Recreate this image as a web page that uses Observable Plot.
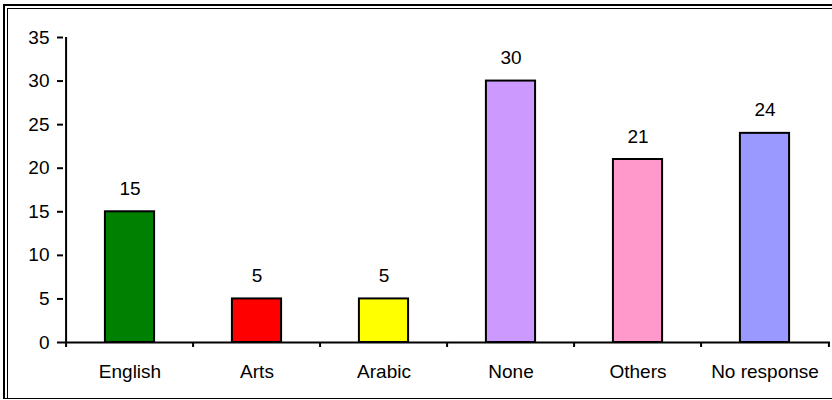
<!DOCTYPE html>
<html>
<head>
<meta charset="utf-8">
<script src="https://cdn.jsdelivr.net/npm/d3@7"></script>
<script src="https://cdn.jsdelivr.net/npm/@observablehq/plot@0.6"></script>
<style>
  html, body { margin: 0; padding: 0; width: 832px; height: 400px; overflow: hidden; background: #fff; }
  #wrap { position: relative; width: 832px; height: 400px; }
  .b1 { position: absolute; left: 3px; top: 4px; width: 860px; height: 395px; box-sizing: border-box;
        border-left: 2px solid #000; border-top: 2px solid #000; border-bottom: 1px solid #000; }
  .b2 { position: absolute; left: 7px; top: 8px; width: 860px; height: 391px; box-sizing: border-box;
        border-left: 1px solid #000; border-top: 1px solid #000; }
  #chart { position: absolute; left: 0; top: 0; }
</style>
</head>
<body>
<div id="wrap">
  <div class="b1"></div>
  <div class="b2"></div>
  <div id="chart"></div>
</div>
<script>
const categories = ["English", "Arts", "Arabic", "None", "Others", "No response"];
const values = [15, 5, 5, 30, 21, 24];
const colors = ["#008000", "#FF0000", "#FFFF00", "#CC99FF", "#FF99CC", "#9999FF"];
const yTicks = [0, 5, 10, 15, 20, 25, 30, 35];

const data = categories.map((c, i) => ({category: c, value: values[i], color: colors[i]}));

const W = 832, H = 400, ML = 63, MR = 2, MT = 37, MB = 58;
const step = (W - ML - MR) / categories.length;
const barW = 50;
const inset = (step - barW) / 2;
const font = "Liberation Sans, Arial, sans-serif";

const chart = Plot.plot({
  width: W,
  height: H,
  marginLeft: ML,
  marginRight: MR,
  marginTop: MT,
  marginBottom: MB,
  style: {fontFamily: font, fontSize: "19px", background: "transparent", color: "#000"},
  x: {type: "band", domain: categories, padding: 0, axis: null},
  y: {domain: [0, 35], axis: null},
  marks: [
    Plot.barY(data, {x: "category", y: "value", fill: "color", stroke: "#000", strokeWidth: 2,
      insetLeft: inset, insetRight: inset}),
    Plot.text(data, {x: "category", y: "value", text: d => String(d.value), dy: -23,
      fontSize: 19, fill: "#000"}),
    // y axis
    Plot.axisY({ticks: yTicks, tickSize: 6, tickPadding: 8, strokeWidth: 2, label: null,
      fontSize: 19, tickFormat: d => String(d)}),
    Plot.ruleX([categories[0]], {dx: -step / 2, y1: 0, y2: 35, strokeWidth: 2, stroke: "#000"}),
    // x axis line
    Plot.ruleY([0], {strokeWidth: 2, stroke: "#000"}),
    // x category labels
    Plot.axisX({tickSize: 0, tickPadding: 21.5, label: null, fontSize: 19}),
    // boundary ticks
    Plot.axisX({tickSize: 5, strokeWidth: 2, dx: -step / 2, tickFormat: () => "", label: null}),
    Plot.axisX([categories[categories.length - 1]], {tickSize: 5, strokeWidth: 2, dx: step / 2,
      tickFormat: () => "", label: null})
  ]
});
document.getElementById("chart").appendChild(chart);
</script>
</body>
</html>
